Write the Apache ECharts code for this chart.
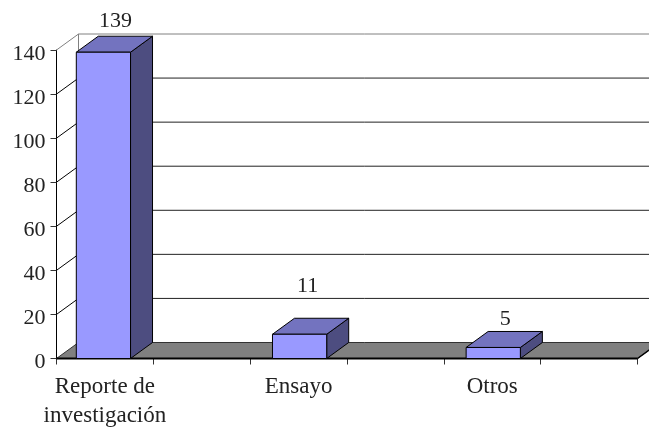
<!DOCTYPE html>
<html>
<head>
<meta charset="utf-8">
<title>Chart</title>
<script src="https://cdn.jsdelivr.net/npm/echarts@6/dist/echarts.min.js"></script>
<style>
html, body { margin: 0; padding: 0; background: #fff; }
#main { width: 649px; height: 429px; }
</style>
</head>
<body>
<div id="main"></div>
<script>
// datos
var categories = ['Reporte de\ninvestigación', '', 'Ensayo', '', 'Otros', '']
var values = [139, null, 11, null, 5, null]
var yTicks = [0, 20, 40, 60, 80, 100, 120, 140]

// estilo
var DX = 22, DY = -16
var FONT = '"Liberation Serif", serif'
var TEXT = '#222'
// ajustes finos por categoria: altura de la etiqueta y posicion de la barra
var labelLift = [4, 0, 21, 0, 1, 0]
var labelNudge = [1, 0, -3, 0, 1, 0]
var barNudge = [-1.5, 0, 1, 0, 1, 0]

var chart = echarts.init(document.getElementById('main'))

function shift (p) { return [p[0] + DX, p[1] + DY] }

function line (a, b, color) {
  return {
    type: 'line',
    shape: { x1: a[0], y1: a[1], x2: b[0], y2: b[1] },
    style: { stroke: color, lineWidth: 1 }
  }
}

function poly (points, fill) {
  return {
    type: 'polygon',
    shape: { points: points },
    style: { fill: fill, stroke: '#000', lineWidth: 1 }
  }
}

// suelo y lineas de la pared
function renderWall (params, api) {
  var v = api.value(0)
  var left = api.coord([0, v])
  left[0] = params.coordSys.x
  var right = [params.coordSys.x + params.coordSys.width, left[1]]
  var back = shift(left)
  var backEnd = shift(right)
  var children = []
  if (v === 0) {
    children.push({
      type: 'polygon',
      shape: { points: [left, back, backEnd, right] },
      style: { fill: '#808080', stroke: '#333', lineWidth: 1 }
    })
    children.push(line(back, [back[0], back[1] - (left[1] - params.coordSys.y)], '#808080'))
  } else {
    var top = v === yTicks[yTicks.length - 1]
    children.push(line(left, back, top ? '#808080' : '#000'))
    children.push(line(back, backEnd, top ? '#808080' : '#222'))
  }
  return { type: 'group', children: children }
}

function renderBar (params, api) {
  var i = api.value(0)
  var v = api.value(1)
  var base = api.coord([i, 0])
  var head = api.coord([i, v])
  var w = api.size([1, 0])[0] * 0.56
  var mid = base[0] + barNudge[i]
  var x0 = mid - w / 2
  var x1 = mid + w / 2
  var a = [x0, head[1]], b = [x1, head[1]], c = [x1, base[1]], d = [x0, base[1]]
  return {
    type: 'group',
    children: [
      poly([b, shift(b), shift(c), c], '#4d4d80'),
      poly([a, shift(a), shift(b), b], '#7373bf'),
      poly([a, b, c, d], '#9999ff'),
      {
        type: 'text',
        style: {
          x: mid + DX / 2 + labelNudge[i],
          y: head[1] + DY - labelLift[i],
          text: String(v),
          fill: TEXT,
          font: '22px ' + FONT,
          align: 'center',
          verticalAlign: 'bottom'
        }
      }
    ]
  }
}

chart.setOption({
  animation: false,
  grid: { left: 56.5, right: 11.5, top: 50, bottom: 70.5, outerBoundsMode: 'none' },
  xAxis: {
    type: 'category',
    data: categories,
    axisLine: { show: false },
    axisTick: { show: true, alignWithLabel: false, interval: 0, length: 6, lineStyle: { color: '#333' } },
    axisLabel: { interval: 0, margin: 14, color: TEXT, fontFamily: FONT, fontSize: 23, lineHeight: 29 }
  },
  yAxis: {
    type: 'value',
    min: 0,
    max: 140,
    interval: 20,
    splitLine: { show: false },
    axisLine: { show: true, lineStyle: { color: '#000', width: 1 } },
    axisTick: { show: true, length: 6, lineStyle: { color: '#333' } },
    axisLabel: { margin: 11, color: TEXT, fontFamily: FONT, fontSize: 22, verticalAlign: 'top', lineHeight: 8 }
  },
  series: [
    {
      type: 'custom',
      renderItem: renderWall,
      data: yTicks.map(function (t) { return [t] }),
      encode: { y: 0 },
      silent: true,
      z: 1
    },
    {
      type: 'custom',
      renderItem: renderBar,
      data: values.map(function (v, i) { return v === null ? null : [i, v] }).filter(Boolean),
      encode: { x: 0, y: 1 },
      silent: true,
      z: 2
    },
    {
      // linea gruesa del eje x, encima del suelo
      type: 'custom',
      renderItem: function (params, api) {
        var p = api.coord([0, 0])
        var x0 = params.coordSys.x, x1 = x0 + params.coordSys.width
        return {
          type: 'group',
          children: [
            { type: 'line', shape: { x1: x0, y1: p[1], x2: x1, y2: p[1] }, style: { stroke: '#000', lineWidth: 2 } },
            { type: 'line', shape: { x1: x1, y1: p[1], x2: x1 + DX, y2: p[1] + DY }, style: { stroke: '#000', lineWidth: 1.5 } }
          ]
        }
      },
      data: [[0]],
      encode: { y: 0 },
      silent: true,
      z: 1.5
    }
  ]
})
</script>
</body>
</html>
